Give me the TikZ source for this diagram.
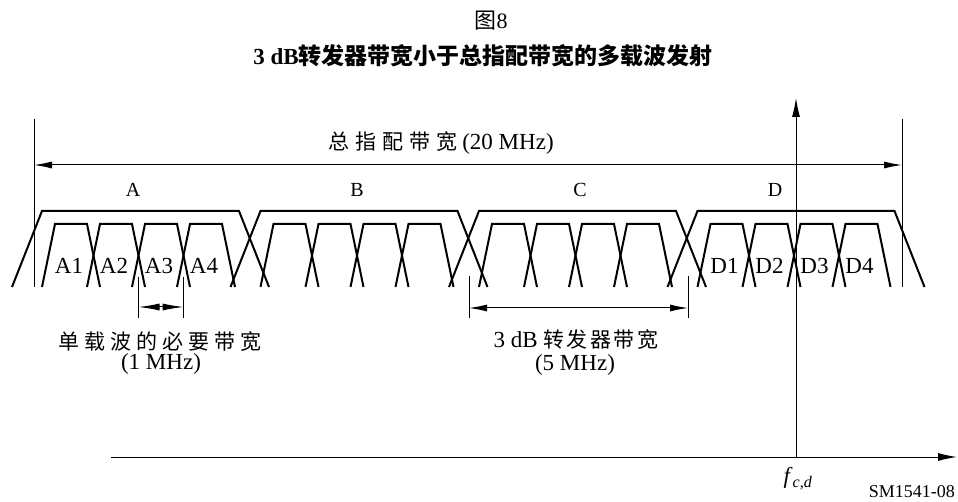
\documentclass[tikz,border=0pt]{standalone}
\usepackage{fontspec}
\setmainfont{Liberation Serif}
\newfontfamily\cjk{Noto Sans CJK SC}
\usetikzlibrary{arrows.meta}
\newcommand{\cg}[1]{\hspace{#1pt}}
\begin{document}
\begin{tikzpicture}[x=1pt,y=-1pt,
  thinline/.style={line width=1pt},
  band/.style={line width=2pt, line join=miter},
  dimarrow/.style={line width=1pt, {Latex[length=18pt,width=7pt]}-{Latex[length=18pt,width=7pt]}},
  axisarrow/.style={line width=1pt, -{Latex[length=19pt,width=8pt]}},
  grplbl/.style={font=\fontsize{20}{20}\selectfont, inner sep=0pt},
  carlbl/.style={font=\fontsize{23}{23}\selectfont, inner sep=0pt},
  txtlbl/.style={font=\fontsize{23}{23}\selectfont, inner sep=0pt},
  cjklbl/.style={font=\fontsize{21}{21}\selectfont\cjk, inner sep=0pt}]
\useasboundingbox (0,0) rectangle (958,502);

% title
\node[font=\fontsize{22}{22}\selectfont, inner sep=0pt] (fig) at (491,21) {{\cjk 图}8};
\node[font=\fontsize{23}{23}\selectfont\bfseries, inner sep=0pt] (title) at (483,56) {3 dB{\cjk 转发器带宽小于总指配带宽的多载波发射}};

% bands
\foreach \g in {0,...,3}{
  \pgfmathsetmacro{\L}{42+218.5*\g}
  \draw[band] (\L-30,287) -- (\L,211) -- (\L+197,211) -- (\L+227,287);
  \foreach \k in {0,...,3}{
    \pgfmathsetmacro{\l}{\L+13+45*\k}
    \draw[band] (\l-13,287) -- (\l,224) -- (\l+32,224) -- (\l+45,287);
  }
}

% carrier labels
\foreach \k in {1,...,4}{
  \pgfmathsetmacro{\xa}{42+13+45*(\k-1)+14}
  \pgfmathsetmacro{\xd}{42+3*218.5+13+45*(\k-1)+14}
  \node[carlbl] (A\k) at (\xa,266) {A\k};
  \node[carlbl] (D\k) at (\xd,266) {D\k};
}

% group labels
\node[grplbl] (gA) at (133,190) {A};
\node[grplbl] (gB) at (357,190) {B};
\node[grplbl] (gC) at (580,190) {C};
\node[grplbl] (gD) at (775,190) {D};

% total bandwidth
\coordinate (tl) at (34,119); \coordinate (tlb) at (34,287);
\coordinate (tr) at (902,119); \coordinate (trb) at (902,287);
\draw[thinline] (tl) -- (tlb);
\draw[thinline] (tr) -- (trb);
\coordinate (ta) at (34,165); \coordinate (tb) at (902,165);
\draw[dimarrow] (ta) -- (tb);
\node[cjklbl] (total) at (441,143) {总\cg{6}指\cg{6}配\cg{6}带\cg{6}宽\cg{5}{\rmfamily\fontsize{23}{23}\selectfont (20 MHz)}};

% axes
\coordinate (xs) at (111,457); \coordinate (xe) at (957,457);
\coordinate (ys) at (796,457); \coordinate (ye) at (796,98);
\draw[axisarrow] (xs) -- (xe);
\draw[axisarrow] (ys) -- (ye);
\node[font=\fontsize{23}{23}\selectfont, inner sep=0pt] (fcd) at (798,479) {\textit{f}\textsubscript{\textit{c,d}}};
\node[font=\fontsize{18}{18}\selectfont, inner sep=0pt, anchor=east] (sm) at (955,492) {SM1541-08};

% 1 MHz
\coordinate (o1t) at (138.5,277); \coordinate (o1b) at (138.5,318);
\coordinate (o2t) at (183.5,277); \coordinate (o2b) at (183.5,318);
\draw[thinline] (o1t) -- (o1b);
\draw[thinline] (o2t) -- (o2b);
\coordinate (o1) at (138.5,307); \coordinate (o2) at (183.5,307);
\draw[line width=1pt, {Latex[length=21pt,width=7pt]}-{Latex[length=21pt,width=7pt]}] (o1) -- (o2);
\node[cjklbl] (nb) at (160,342) {单\cg{5}载\cg{5}波\cg{5}的\cg{5}必\cg{5}要\cg{5}带\cg{5}宽};
\node[txtlbl] (nb2) at (161,364) {(1 MHz)};

% 5 MHz
\coordinate (f1t) at (469,276); \coordinate (f1b) at (469,318);
\coordinate (f2t) at (688,276); \coordinate (f2b) at (688,318);
\draw[thinline] (f1t) -- (f1b);
\draw[thinline] (f2t) -- (f2b);
\coordinate (f1) at (469,308); \coordinate (f2) at (688,308);
\draw[dimarrow] (f1) -- (f2);
\node[txtlbl] (tb) at (576,340) {3 dB {\cjk\fontsize{21}{21}\selectfont 转\cg{2.5}发\cg{2.5}器\cg{2.5}带\cg{2.5}宽}};
\node[txtlbl] (tb2) at (575,365) {(5 MHz)};
\end{tikzpicture}
\end{document}
